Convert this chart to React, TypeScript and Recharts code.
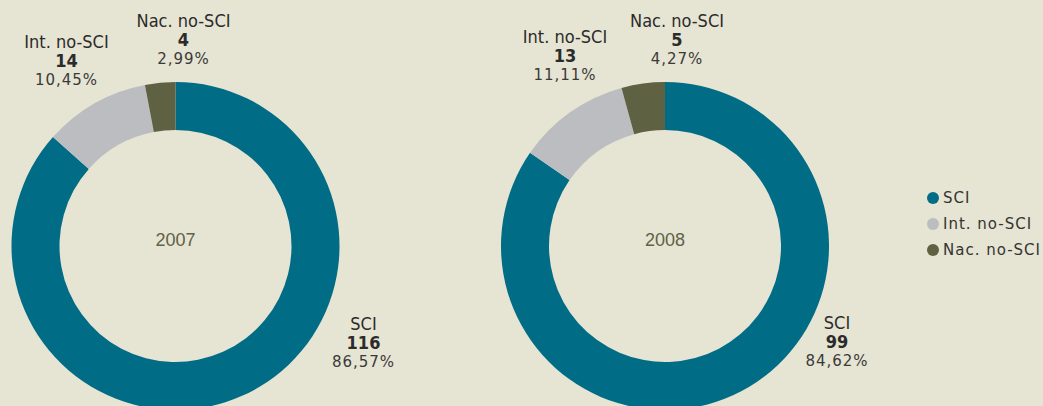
import { PieChart, Pie, Cell, Legend } from 'recharts';

// categories and values per year
const categories = ['SCI', 'Int. no-SCI', 'Nac. no-SCI'];
const values2007 = [116, 14, 4];
const values2008 = [99, 13, 5];
const percents2007 = ['86,57%', '10,45%', '2,99%'];
const percents2008 = ['84,62%', '11,11%', '4,27%'];
const years = ['2007', '2008'];

const COLORS = ['#006c86', '#bcbdc1', '#5e6142'];
const BG = '#e6e4d2';

// label anchor relative to pie center: [dx, baseline of first line]
const labelOffsets2007 = [
  [188, 84],
  [-109, -198],
  [8, -219],
];
const labelOffsets2008 = [
  [172, 83],
  [-100, -203],
  [12, -219],
];

const build = (vals: number[], pcts: string[]) =>
  categories.map((name, i) => ({ name, value: vals[i], pct: pcts[i] }));

const data2007 = build(values2007, percents2007);
const data2008 = build(values2008, percents2008);

const condensed = "'DejaVu Sans Condensed', 'DejaVu Sans', sans-serif";

const makeLabel = (offsets: number[][], year: string) => (props: any) => {
  const { cx, cy, index, payload } = props;
  const [dx, dy] = offsets[index];
  const x = cx + dx;
  const y = cy + dy;
  return (
    <g>
      {index === 0 && (
        <text
          x={cx}
          y={cy}
          textAnchor="middle"
          fill="#5f6247"
          fontSize={18}
          fontFamily="'Liberation Sans', Arial, sans-serif"
        >
          {year}
        </text>
      )}
      <text
        x={x}
        y={y}
        textAnchor="middle"
        fill="#2b2b2b"
        fontSize={18}
        fontFamily={condensed}
        style={{ fontStretch: 'condensed' }}
      >
        {payload.name}
      </text>
      <text
        x={x}
        y={y + 19}
        textAnchor="middle"
        fill="#2b2b2b"
        fontSize={18}
        fontWeight={600}
        fontFamily={condensed}
        style={{ fontStretch: 'condensed' }}
      >
        {payload.value}
      </text>
      <text
        x={x}
        y={y + 37}
        textAnchor="middle"
        fill="#3a3a3a"
        fontSize={15}
        letterSpacing={1}
        fontFamily="'DejaVu Sans', sans-serif"
      >
        {payload.pct}
      </text>
    </g>
  );
};

const renderLegend = () => (
  <div style={{ fontFamily: "'DejaVu Sans', sans-serif", fontSize: 15, letterSpacing: 1, color: '#333' }}>
    {categories.map((c, i) => (
      <div key={c} style={{ display: 'flex', alignItems: 'center', height: i === 1 ? 27 : 25, whiteSpace: 'nowrap' }}>
        <span
          style={{
            width: 12,
            height: 12,
            borderRadius: 6,
            background: COLORS[i],
            display: 'inline-block',
            marginRight: 4,
          }}
        />
        {c}
      </div>
    ))}
  </div>
);

export default function App() {
  return (
    <div style={{ position: 'absolute', left: 0, top: 0, width: 1043, height: 406, background: BG, overflow: 'hidden' }}>
      <PieChart width={1043} height={406} margin={{ top: 0, right: 0, bottom: 0, left: 0 }}>
        <Pie
          data={data2007}
          dataKey="value"
          nameKey="name"
          cx={175.5}
          cy={246}
          innerRadius={116}
          outerRadius={164}
          startAngle={90}
          endAngle={-270}
          stroke="none"
          label={makeLabel(labelOffsets2007, years[0])}
          labelLine={false}
          isAnimationActive={false}
        >
          {data2007.map((d, i) => (
            <Cell key={d.name} fill={COLORS[i]} />
          ))}
        </Pie>
        <Pie
          data={data2008}
          dataKey="value"
          nameKey="name"
          cx={665}
          cy={246}
          innerRadius={116}
          outerRadius={164}
          startAngle={90}
          endAngle={-270}
          stroke="none"
          label={makeLabel(labelOffsets2008, years[1])}
          labelLine={false}
          isAnimationActive={false}
        >
          {data2008.map((d, i) => (
            <Cell key={d.name} fill={COLORS[i]} />
          ))}
        </Pie>
        <Legend
          content={renderLegend}
          wrapperStyle={{ position: 'absolute', left: 927, top: 185, width: 116 }}
        />
      </PieChart>
    </div>
  );
}
